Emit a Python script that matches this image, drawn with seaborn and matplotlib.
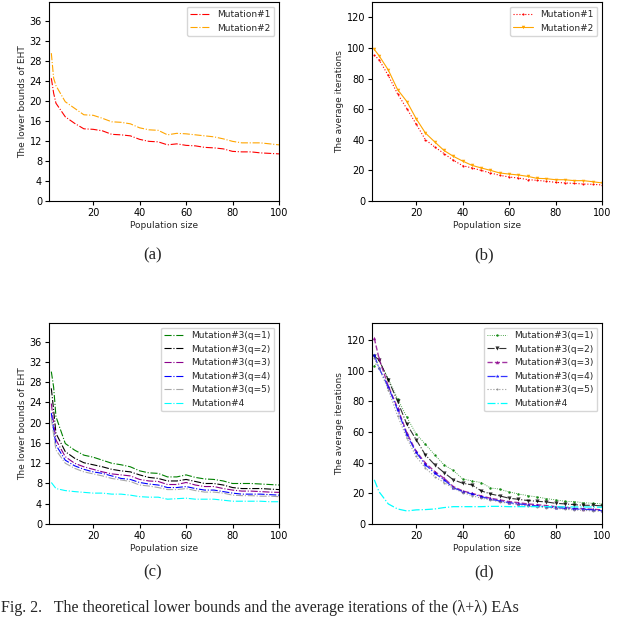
import matplotlib
matplotlib.use("Agg")
import matplotlib.pyplot as plt
import seaborn as sns
import numpy as np

# ---------------- data ----------------
x_lb = [2, 3, 4, 8, 12, 16, 20, 24, 28, 32, 36, 40, 44, 48, 52, 56, 60, 64, 68, 72, 76, 80, 84, 88, 92, 96, 100]
lb_m1 = [24.5, 21.5, 19.5, 16.8, 15.5, 14.4, 14.3, 14.0, 13.3, 13.2, 13.0, 12.3, 11.9, 11.8, 11.2, 11.4, 11.1, 11.0, 10.7, 10.6, 10.4, 9.9, 9.8, 9.8, 9.6, 9.5, 9.4]
lb_m2 = [29.5, 24.5, 23.0, 19.8, 18.5, 17.2, 17.1, 16.5, 15.8, 15.7, 15.4, 14.6, 14.2, 14.1, 13.2, 13.5, 13.4, 13.2, 13.0, 12.8, 12.4, 11.9, 11.6, 11.6, 11.6, 11.4, 11.2]

lb_q1 = [30.1, 27.0, 21.2, 15.9, 14.6, 13.6, 13.2, 12.6, 12.0, 11.7, 11.3, 10.5, 10.1, 10.0, 9.3, 9.3, 9.7, 9.2, 8.9, 8.8, 8.5, 8.0, 8.0, 8.0, 7.9, 7.8, 7.7]
lb_q2 = [26.8, 22.5, 17.9, 14.3, 13.0, 12.1, 11.7, 11.3, 10.8, 10.5, 10.3, 9.7, 9.2, 9.0, 8.5, 8.5, 8.8, 8.4, 8.0, 8.0, 7.7, 7.2, 7.0, 7.0, 7.0, 6.9, 6.8]
lb_q3 = [23.8, 19.9, 16.6, 13.3, 12.0, 11.3, 10.8, 10.3, 9.9, 9.7, 9.5, 8.8, 8.5, 8.4, 7.8, 7.8, 8.2, 7.7, 7.4, 7.4, 7.0, 6.7, 6.5, 6.5, 6.4, 6.3, 6.25]
lb_q4 = [21.9, 18.6, 15.6, 12.6, 11.5, 10.8, 10.3, 10.0, 9.5, 9.0, 8.8, 8.2, 7.9, 7.7, 7.2, 7.2, 7.4, 7.0, 6.7, 6.7, 6.4, 6.1, 5.9, 5.9, 5.9, 5.8, 5.7]
lb_q5 = [20.9, 17.6, 14.6, 12.0, 11.0, 10.3, 9.9, 9.5, 9.0, 8.7, 8.4, 7.7, 7.5, 7.2, 6.8, 6.8, 7.0, 6.6, 6.3, 6.3, 6.1, 5.7, 5.6, 5.6, 5.5, 5.5, 5.4]
lb_m4 = [8.2, 7.6, 7.0, 6.6, 6.4, 6.25, 6.1, 6.1, 5.9, 5.9, 5.7, 5.4, 5.3, 5.3, 4.9, 5.0, 5.1, 4.9, 4.9, 4.9, 4.7, 4.5, 4.5, 4.5, 4.5, 4.4, 4.4]

x_it = [2, 4, 8, 12, 16, 20, 24, 28, 32, 36, 40, 44, 48, 52, 56, 60, 64, 68, 72, 76, 80, 84, 88, 92, 96, 100]
it_m1 = [95.2, 92.4, 82.0, 70.0, 60.3, 50.3, 40.0, 35.3, 31.0, 26.6, 23.1, 21.6, 20.0, 18.3, 16.8, 15.7, 15.0, 14.0, 13.5, 12.9, 12.2, 11.8, 11.5, 11.1, 10.9, 10.5]
it_m2 = [99.0, 95.0, 85.6, 72.8, 65.0, 53.8, 44.4, 38.6, 33.0, 29.2, 26.1, 23.3, 21.6, 20.0, 18.3, 17.6, 17.0, 16.1, 14.8, 14.6, 13.9, 13.9, 13.3, 13.3, 12.6, 11.8]

it_q1 = [102.8, 107.0, 94.5, 81.7, 69.7, 58.6, 52.0, 45.0, 38.6, 34.9, 29.4, 28.1, 27.0, 23.5, 22.7, 20.9, 19.6, 18.5, 17.6, 16.6, 15.7, 14.8, 14.6, 13.9, 13.5, 13.1]
it_q2 = [109.4, 107.0, 94.0, 80.0, 65.0, 55.0, 45.0, 38.6, 33.5, 28.8, 26.6, 25.5, 21.6, 19.6, 18.3, 16.8, 16.1, 15.3, 14.8, 14.4, 13.5, 13.1, 12.6, 12.2, 12.2, 11.8]
it_q3 = [121.0, 108.0, 90.0, 75.6, 59.3, 47.3, 39.7, 34.2, 29.8, 24.4, 21.6, 20.0, 18.3, 16.8, 15.7, 14.6, 13.9, 13.1, 12.6, 12.0, 11.3, 10.9, 10.2, 10.0, 9.6, 9.2]
it_q4 = [110.0, 101.7, 89.3, 74.5, 58.2, 46.6, 38.6, 33.1, 28.8, 23.7, 21.1, 19.6, 17.9, 16.1, 15.0, 13.9, 13.1, 12.4, 11.8, 11.3, 10.7, 10.2, 9.8, 9.6, 9.2, 8.7]
it_q5 = [108.0, 101.7, 87.6, 70.6, 56.0, 44.0, 36.4, 30.9, 27.0, 23.3, 20.5, 18.5, 16.8, 15.7, 14.4, 13.5, 12.6, 11.8, 11.3, 10.7, 10.2, 9.6, 9.2, 8.9, 8.5, 8.3]
it_m4 = [28.8, 21.1, 13.1, 9.8, 8.5, 9.2, 9.4, 9.8, 10.7, 11.3, 11.3, 11.3, 11.3, 11.5, 11.5, 11.3, 11.3, 11.3, 11.3, 11.3, 11.3, 11.1, 11.1, 11.1, 11.1, 10.9]

lb_ticks = [0, 4, 8, 12, 16, 20, 24, 28, 32, 36]
it_ticks_b = [0, 20, 40, 60, 80, 100, 120]
x_ticks = [20, 40, 60, 80, 100]

# ---------------- style ----------------
sns.set_theme(style="ticks")
plt.rcParams['font.family'] = ['DejaVu Sans']
plt.rcParams['axes.edgecolor'] = 'black'
plt.rcParams['axes.linewidth'] = 0.8
plt.rcParams['xtick.color'] = 'black'
plt.rcParams['ytick.color'] = 'black'

fig = plt.figure(figsize=(6.4, 6.18), dpi=100)
W, H = 640, 618

def add_ax(l, r, t, b):
    return fig.add_axes([l / W, 1 - b / H, (r - l) / W, (b - t) / H])

ax_a = add_ax(49, 279, 2, 201)
ax_b = add_ax(372, 602, 2, 201)
ax_c = add_ax(49, 279, 323, 524)
ax_d = add_ax(372, 602, 323, 524)

TF = 7
LF = 6.5

def finish(ax, ylab, ylim, yticks):
    ax.set_xlim(1, 100)
    ax.set_ylim(*ylim)
    ax.set_xticks(x_ticks)
    ax.set_yticks(yticks)
    ax.tick_params(labelsize=TF, length=3, width=0.8, direction='out', pad=2)
    ax.set_xlabel("Population size", fontsize=LF, labelpad=2)
    ax.set_ylabel(ylab, fontsize=LF, labelpad=2)
    for s in ax.spines.values():
        s.set_visible(True)
        s.set_color('black')
    ax.legend(loc='upper right', fontsize=LF, frameon=True, fancybox=True,
              framealpha=0.8, edgecolor='0.8', handlelength=2.2)

# (a)
sns.lineplot(x=x_lb, y=lb_m1, ax=ax_a, color='red', linestyle='-.', linewidth=0.8, label='Mutation#1')
sns.lineplot(x=x_lb, y=lb_m2, ax=ax_a, color='orange', linestyle='-.', linewidth=0.8, label='Mutation#2')
finish(ax_a, "The lower bounds of EHT", (0, 39.7), lb_ticks)

# (b)
sns.lineplot(x=x_it, y=it_m1, ax=ax_b, color='red', linestyle=':', linewidth=0.8, marker='.', markersize=3,
             markeredgewidth=0, label='Mutation#1')
sns.lineplot(x=x_it, y=it_m2, ax=ax_b, color='orange', linestyle='-', linewidth=0.8, marker='v', markersize=2.5,
             markeredgewidth=0, label='Mutation#2')
finish(ax_b, "The average iterations", (0, 130), it_ticks_b)

# (c)
c_series = [(lb_q1, 'green', 'Mutation#3(q=1)'),
            (lb_q2, 'black', 'Mutation#3(q=2)'),
            (lb_q3, 'darkmagenta', 'Mutation#3(q=3)'),
            (lb_q4, 'blue', 'Mutation#3(q=4)'),
            (lb_q5, 'darkgrey', 'Mutation#3(q=5)'),
            (lb_m4, 'cyan', 'Mutation#4')]
for ys, col, lab in c_series:
    sns.lineplot(x=x_lb, y=ys, ax=ax_c, color=col, linestyle='-.', linewidth=0.8, label=lab)
finish(ax_c, "The lower bounds of EHT", (0, 39.7), lb_ticks)

# (d)
sns.lineplot(x=x_it, y=it_q1, ax=ax_d, color='green', linestyle=':', linewidth=0.6, marker='.', markersize=3.5,
             markeredgewidth=0, alpha=0.9, label='Mutation#3(q=1)')
sns.lineplot(x=x_it, y=it_q2, ax=ax_d, color='black', linestyle='-.', linewidth=0.8, marker='v', markersize=3,
             markeredgewidth=0, alpha=0.8, label='Mutation#3(q=2)')
sns.lineplot(x=x_it, y=it_q3, ax=ax_d, color='darkmagenta', linestyle='--', linewidth=1.0, marker='^', markersize=2.5,
             markeredgewidth=0, alpha=0.8, label='Mutation#3(q=3)')
sns.lineplot(x=x_it, y=it_q4, ax=ax_d, color='blue', linestyle='-.', linewidth=0.9, marker='*', markersize=3,
             markeredgewidth=0, alpha=0.8, label='Mutation#3(q=4)')
sns.lineplot(x=x_it, y=it_q5, ax=ax_d, color='grey', linestyle=':', linewidth=0.8, marker='.', markersize=3,
             markeredgewidth=0, alpha=0.8, label='Mutation#3(q=5)')
sns.lineplot(x=x_it, y=it_m4, ax=ax_d, color='cyan', linestyle='-.', linewidth=0.9, label='Mutation#4')
finish(ax_d, "The average iterations", (0, 131), it_ticks_b)

# captions
cap = dict(fontsize=12, family=['Liberation Serif', 'DejaVu Serif'], ha='center', va='center')
fig.text(153 / W, 1 - 255 / H, "(a)", **cap)
fig.text(484 / W, 1 - 255 / H, "(b)", **cap)
fig.text(153 / W, 1 - 572 / H, "(c)", **cap)
fig.text(484 / W, 1 - 572 / H, "(d)", **cap)
fig.text(1 / W, 1 - 616 / H,
         "Fig. 2.   The theoretical lower bounds and the average iterations of the (\u03bb+\u03bb) EAs",
         fontsize=11.5, family=['Liberation Serif', 'DejaVu Serif'], ha='left', va='bottom')

fig.savefig("out.png", dpi=100)
